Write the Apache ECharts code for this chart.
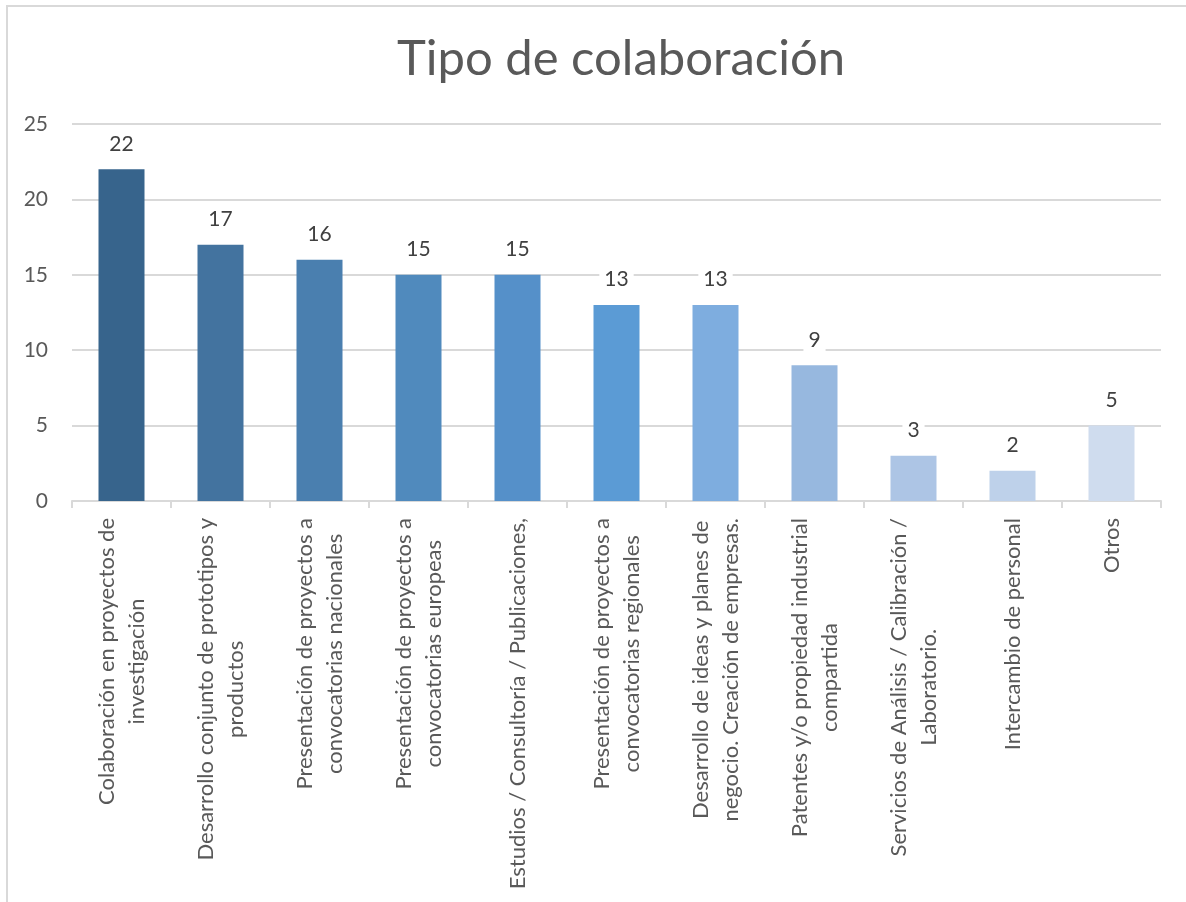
<!DOCTYPE html>
<html>
<head>
<meta charset="utf-8">
<script src="https://cdn.jsdelivr.net/npm/echarts@6/dist/echarts.min.js"></script>
<style>
html,body{margin:0;padding:0;background:#fff;}
#chart{width:1186px;height:902px;}
</style>
</head>
<body>
<div id="chart"></div>
<script>
const titleText = 'Tipo de colaboración';
const categories = [
  'Colaboración en proyectos de\ninvestigación',
  'Desarrollo conjunto de prototipos y\nproductos',
  'Presentación de proyectos a\nconvocatorias nacionales',
  'Presentación de proyectos a\nconvocatorias europeas',
  'Estudios / Consultoría / Publicaciones,',
  'Presentación de proyectos a\nconvocatorias regionales',
  'Desarrollo de ideas y planes de\nnegocio. Creación de empresas.',
  'Patentes y/o propiedad industrial\ncompartida',
  'Servicios de Análisis / Calibración /\nLaboratorio.',
  'Intercambio de personal',
  'Otros'
];
const values = [22, 17, 16, 15, 15, 13, 13, 9, 3, 2, 5];
const barColors = ['#37648c', '#43739f', '#4a7faf', '#508abd', '#5590c9', '#5b9bd5', '#7eaddf', '#97b8df', '#adc5e5', '#bed1ea', '#cfdcee'];

const FONT = 'Lato';
const chart = echarts.init(document.getElementById('chart'), null, {renderer: 'canvas'});
chart.setOption({
  backgroundColor: '#ffffff',
  animation: false,
  title: {
    text: titleText,
    left: 616,
    top: 30,
    textAlign: 'center',
    textStyle: {fontFamily: FONT, fontSize: 49, fontWeight: 'normal', color: '#595959'}
  },
  graphic: [{
    type: 'rect',
    shape: {x: 7, y: 6, width: 1300, height: 1100},
    style: {fill: 'none', stroke: '#d9d9d9', lineWidth: 2},
    silent: true
  }],
  grid: {left: 72, right: 25, top: 124, bottom: 401, containLabel: false},
  xAxis: {
    type: 'category',
    data: categories,
    axisLine: {show: true, lineStyle: {color: '#d9d9d9', width: 2}},
    axisTick: {show: true, length: 7, lineStyle: {color: '#d9d9d9', width: 2}},
    axisLabel: {
      rotate: 90,
      interval: 0,
      margin: 17,
      formatter: function (v) {
        return v.split('\n').map(function (s) { return '{c|' + s + '}'; }).join('\n');
      },
      rich: {
        c: {align: 'center', fontFamily: FONT, fontSize: 22, lineHeight: 30, color: '#595959'}
      }
    }
  },
  yAxis: {
    type: 'value',
    min: 0,
    max: 25,
    interval: 5,
    axisLine: {show: false},
    axisTick: {show: false},
    axisLabel: {fontFamily: FONT, fontSize: 21, color: '#595959', margin: 24},
    splitLine: {lineStyle: {color: '#d9d9d9', width: 2}}
  },
  series: [{
    type: 'bar',
    barWidth: 46,
    data: values.map(function (v, i) {
      return {value: v, itemStyle: {color: barColors[i]}};
    }),
    label: {
      show: true,
      position: 'top',
      distance: 12,
      fontFamily: FONT,
      fontSize: 21,
      color: '#404040',
      backgroundColor: '#ffffff',
      padding: [3, 5]
    }
  }]
});
</script>
</body>
</html>
